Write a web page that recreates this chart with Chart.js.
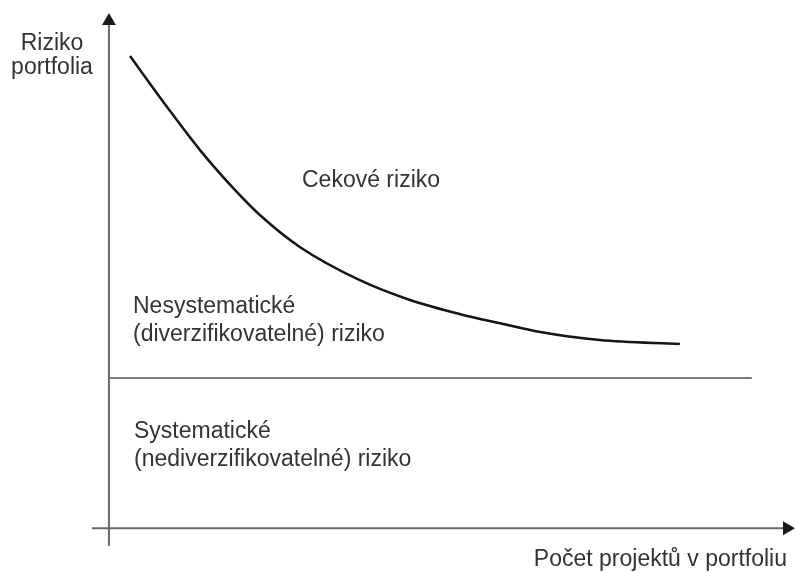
<!DOCTYPE html>
<html>
<head>
<meta charset="utf-8">
<script src="https://cdn.jsdelivr.net/npm/chart.js@4"></script>
<style>
  html, body { margin: 0; padding: 0; background: #fff; }
  #wrap { width: 796px; height: 572px; }
</style>
</head>
<body>
<div id="wrap"><canvas id="chart" width="796" height="572"></canvas></div>
<script>
// number of projects vs. total portfolio risk (abstract units 0..100)
const projects = [3.1, 8.6, 13.4, 18.3, 22.3, 28.2, 37.0, 44.4, 51.8, 57.7, 63.6, 72.4, 84.2];
const totalRisk = [93.1, 83.0, 74.6, 67.1, 61.7, 55.4, 48.9, 45.0, 42.2, 40.4, 38.7, 37.1, 36.3];

// systematic (non-diversifiable) risk level
const systematicX = [0, 94.8];
const systematicLevel = [29.6, 29.6];

// axis extents
const xRange = [-2.5, 100];
const yRange = [-3.5, 100];

const yTitle = ["Riziko", "portfolia"];
const xTitle = "Počet projektů v portfoliu";
const totalLabel = "Cekové riziko";
const unsysLabel = ["Nesystematické", "(diverzifikovatelné) riziko"];
const sysLabel = ["Systematické", "(nediverzifikovatelné) riziko"];

const FONT = '23px "Liberation Sans", Arial, sans-serif';

const textPlugin = {
  id: 'texts',
  afterDraw(c) {
    const ctx = c.ctx;
    ctx.save();
    ctx.fillStyle = '#333';
    ctx.font = FONT;
    ctx.textBaseline = 'alphabetic';

    ctx.textAlign = 'center';
    ctx.fillText(yTitle[0], 52, 50);
    ctx.fillText(yTitle[1], 52, 74);

    ctx.textAlign = 'left';
    ctx.fillText(totalLabel, 302, 187);
    ctx.fillText(unsysLabel[0], 133, 313);
    ctx.fillText(unsysLabel[1], 133, 341);
    ctx.fillText(sysLabel[0], 134, 438);
    ctx.fillText(sysLabel[1], 134, 466);

    ctx.textAlign = 'right';
    ctx.fillText(xTitle, 787, 566);
    ctx.restore();
  }
};

new Chart(document.getElementById('chart'), {
  type: 'scatter',
  data: {
    datasets: [
      {
        label: 'y axis',
        data: [{x: 0, y: yRange[0]}, {x: 0, y: yRange[1]}],
        showLine: true,
        borderColor: '#6a6a6a',
        borderWidth: 2,
        pointRadius: [0, 8],
        pointStyle: 'triangle',
        pointBackgroundColor: '#1a1a1a',
        pointBorderWidth: 0,
        clip: false
      },
      {
        label: 'x axis',
        data: [{x: xRange[0], y: 0}, {x: xRange[1], y: 0}],
        showLine: true,
        borderColor: '#6a6a6a',
        borderWidth: 2,
        pointRadius: [0, 8],
        pointStyle: 'triangle',
        pointRotation: 90,
        pointBackgroundColor: '#1a1a1a',
        pointBorderWidth: 0,
        clip: false
      },
      {
        label: 'Systematické riziko',
        data: systematicX.map((x, i) => ({x: x, y: systematicLevel[i]})),
        showLine: true,
        borderColor: '#7a7a7a',
        borderWidth: 2,
        pointRadius: 0
      },
      {
        label: 'Cekové riziko',
        data: projects.map((x, i) => ({x: x, y: totalRisk[i]})),
        showLine: true,
        borderColor: '#151515',
        borderWidth: 2.5,
        cubicInterpolationMode: 'monotone',
        pointRadius: 0
      }
    ]
  },
  options: {
    responsive: false,
    animation: false,
    layout: { padding: { left: 92, right: 9, top: 21, bottom: 26 } },
    plugins: {
      legend: { display: false },
      tooltip: { enabled: false }
    },
    scales: {
      x: { type: 'linear', min: xRange[0], max: xRange[1], display: false },
      y: { type: 'linear', min: yRange[0], max: yRange[1], display: false }
    }
  },
  plugins: [textPlugin]
});
</script>
</body>
</html>
